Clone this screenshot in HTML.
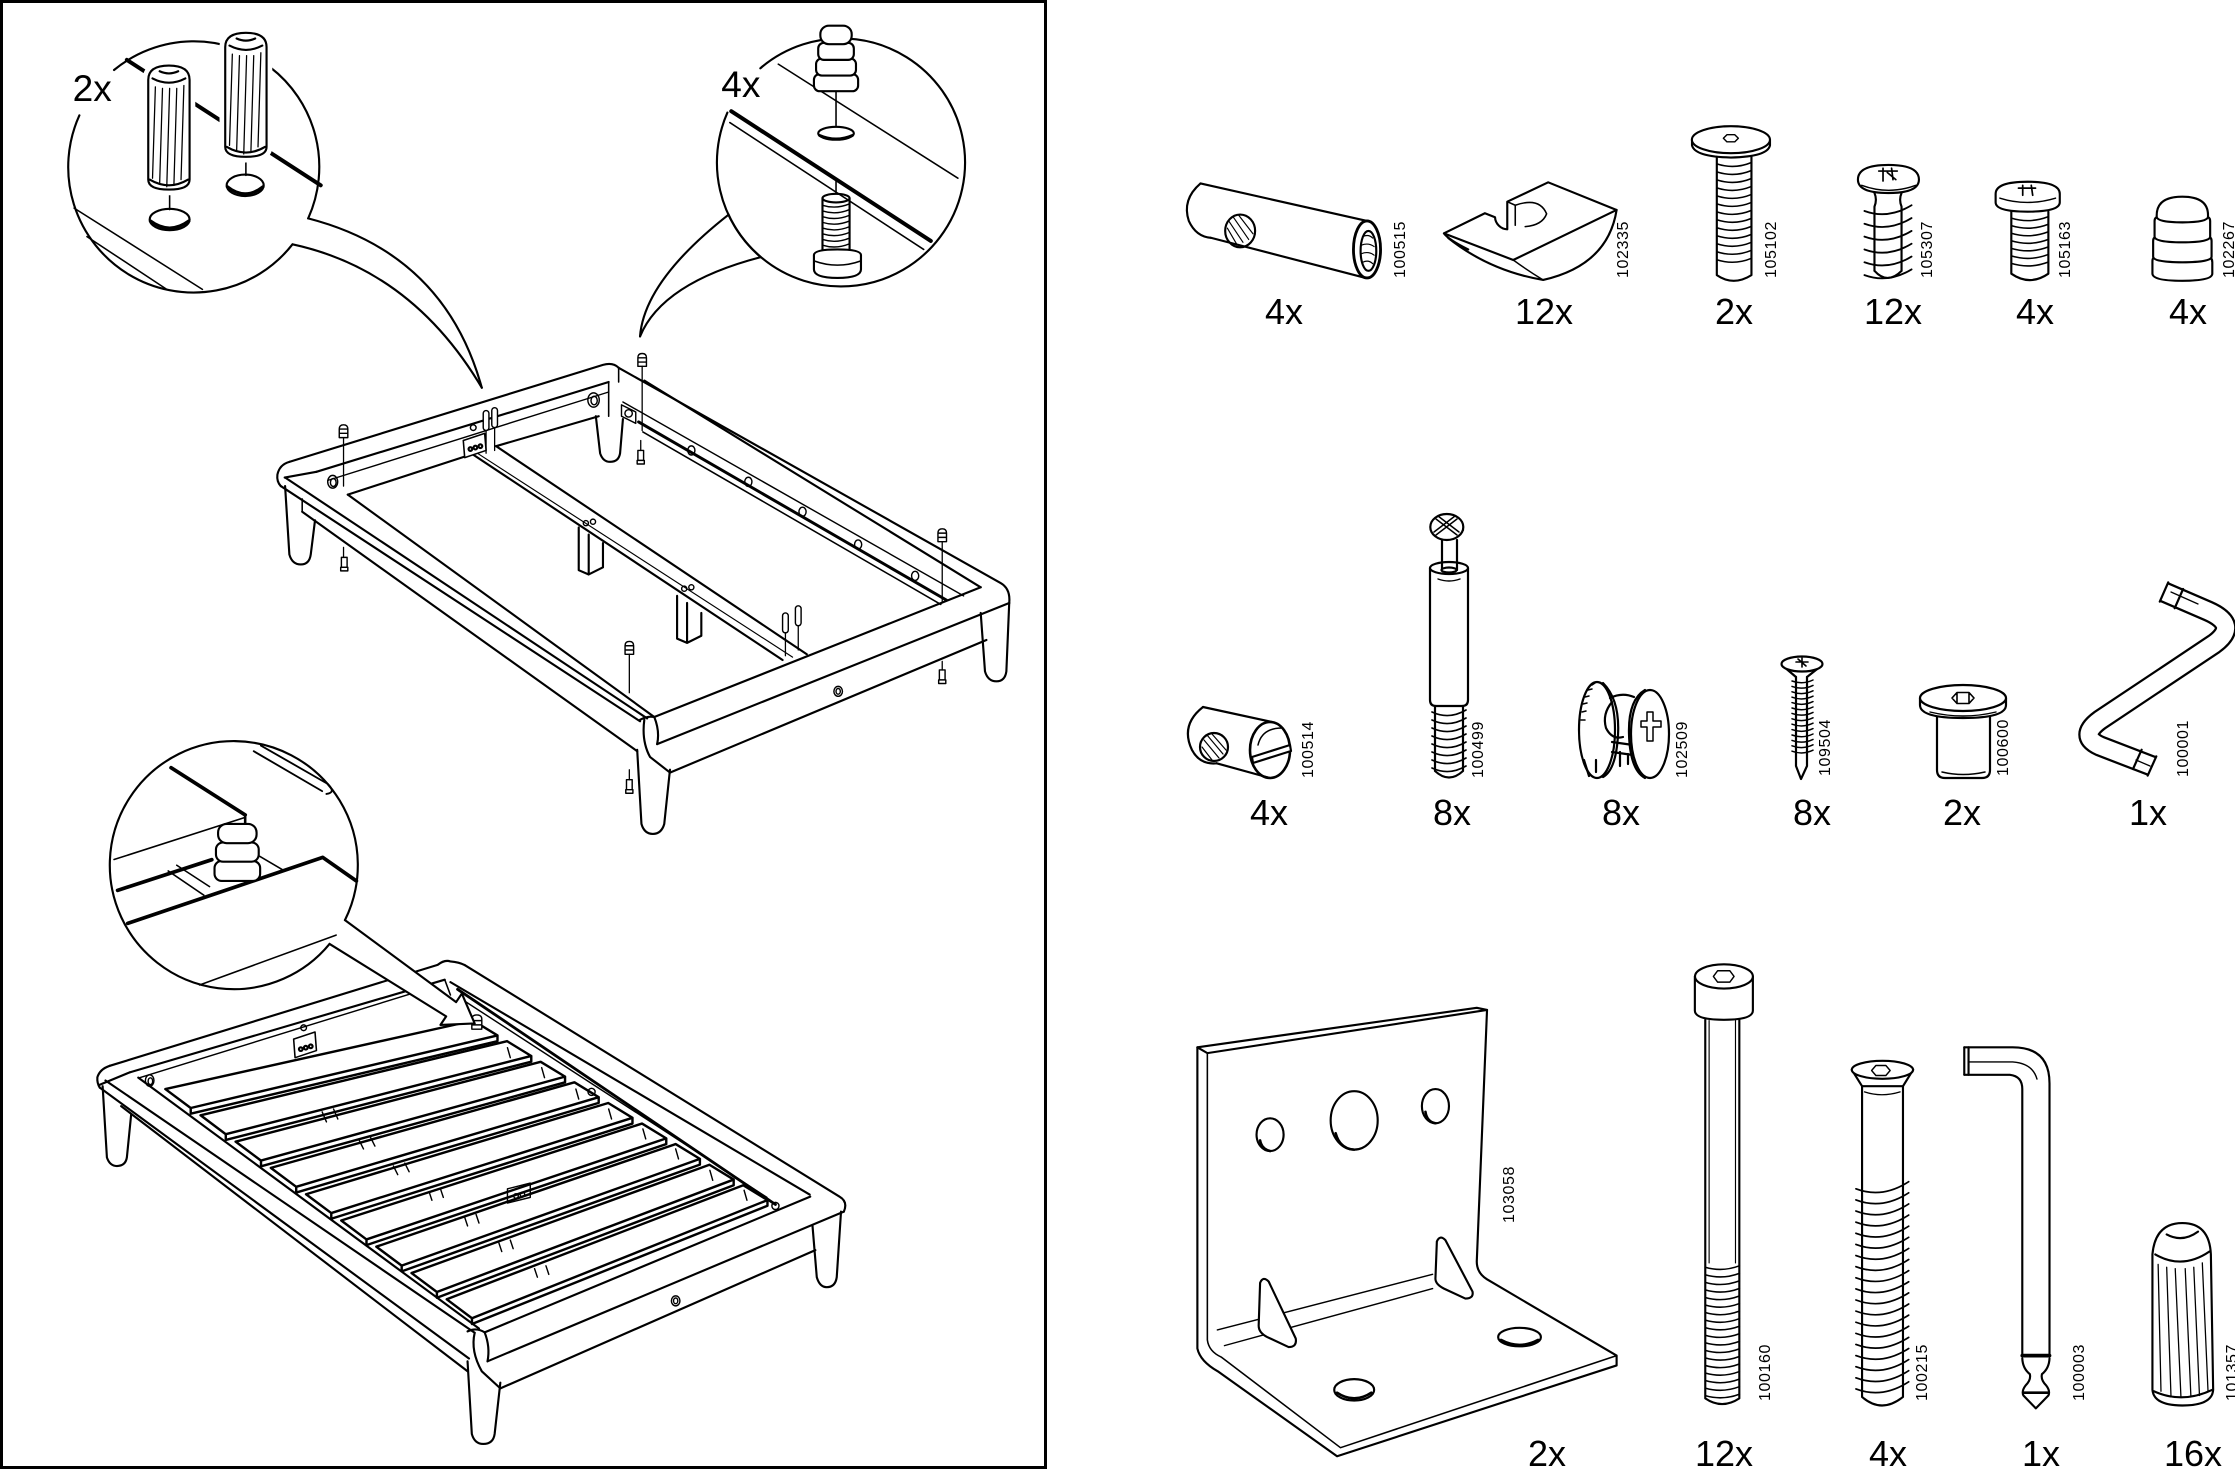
<!DOCTYPE html>
<html><head><meta charset="utf-8"><title>Bed assembly parts</title>
<style>
html,body{margin:0;padding:0;background:#fff;}
svg{display:block;}
text{font-family:"Liberation Sans",sans-serif;fill:#000;stroke:none;}
</style></head><body>
<svg width="2235" height="1470" viewBox="0 0 2235 1470" xmlns="http://www.w3.org/2000/svg">
<rect width="2235" height="1470" fill="#fff"/>
<rect x="1.5" y="1.5" width="1044" height="1466" fill="none" stroke="#000" stroke-width="3"/>

<g transform="scale(1.42545)" fill="none" stroke="#000" stroke-width="1.5" stroke-linecap="round" stroke-linejoin="round">

<!-- Callout 1 -->
<path d="M205.2,171.4 A88,88 0 0 1 55.7,80.9"/>
<path d="M80,49.1 A88,88 0 0 1 216.2,153.2"/>
<path d="M216.2,153.2 Q312,178 338,272"/>
<path d="M205.2,171.4 Q289,189.5 338,272"/>
<text x="51" y="71" font-size="26">2x</text>
<path d="M89,42 L225,130" stroke-width="2.8"/>
<path d="M52,146 L142,203 M61,166 L117,203" stroke-width="1.1"/>
<path d="M119,133 L119,147 M172.5,110 L172.5,123" stroke-width="1.1"/>
<ellipse cx="119" cy="154" rx="14" ry="7.5"/>
<path d="M105.5,155 Q119,165 132.5,155" stroke-width="2.2"/>
<ellipse cx="172" cy="130" rx="13" ry="7.5"/>
<path d="M159.5,131 Q172,141 184.5,131" stroke-width="2.2"/>
<g transform="translate(104,46)">
 <path d="M0,10 Q0,0 14.5,0 Q29,0 29,10 L29,80 Q29,87 14.5,87 Q0,87 0,80 Z" stroke="#fff" stroke-width="8" fill="#fff"/>
 <path d="M0,10 Q0,0 14.5,0 Q29,0 29,10 L29,80 Q29,87 14.5,87 Q0,87 0,80 Z" fill="#fff"/>
 <path d="M3,9 Q14.5,15 26,9 M8,4 Q14.5,7 21,4 M1,80 Q14.5,88 28,80"/>
 <path d="M5,15 L3,79 M10,16 L8,83 M15,16 L13,85 M20,16 L18,84 M25,14 L23,80" stroke-width="0.9"/>
</g>
<g transform="translate(158,23)">
 <path d="M0,10 Q0,0 14.5,0 Q29,0 29,10 L29,80 Q29,87 14.5,87 Q0,87 0,80 Z" stroke="#fff" stroke-width="8" fill="#fff"/>
 <path d="M0,10 Q0,0 14.5,0 Q29,0 29,10 L29,80 Q29,87 14.5,87 Q0,87 0,80 Z" fill="#fff"/>
 <path d="M3,9 Q14.5,15 26,9 M8,4 Q14.5,7 21,4 M1,80 Q14.5,88 28,80"/>
 <path d="M5,15 L3,79 M10,16 L8,83 M15,16 L13,85 M20,16 L18,84 M25,14 L23,80" stroke-width="0.9"/>
</g>

<!-- Callout 2 -->
<path d="M533.4,47.9 A87,87 0 1 1 511.1,150.6"/>
<path d="M533.7,180.4 A87,87 0 0 1 510.3,79"/>
<path d="M511.1,150.6 Q452,197 449,236"/>
<path d="M533.7,180.4 Q464.5,198.5 449,236"/>
<text x="506" y="68" font-size="26">4x</text>
<path d="M546,45 L672,125" stroke-width="1.1"/>
<path d="M513,78 L653,169" stroke-width="2.8"/>
<path d="M512,86 L648,175" stroke-width="1.1"/>
<rect x="571" y="52" width="31" height="12" rx="4" fill="#fff"/>
<rect x="572.5" y="41" width="28" height="12" rx="4" fill="#fff"/>
<rect x="574" y="30" width="25" height="12" rx="4" fill="#fff"/>
<rect x="575.5" y="18" width="22" height="13" rx="6" fill="#fff"/>
<path d="M586.5,64 L586.5,88 M586.5,126 L586.5,136" stroke-width="1.1"/>
<ellipse cx="586.5" cy="93.5" rx="12.5" ry="4.5"/>
<path d="M575,95 Q586.5,100 598,95" stroke-width="2"/>
<path d="M577,139 L577,176 M596,139 L596,176"/>
<ellipse cx="586.5" cy="139" rx="9.5" ry="3"/>
<path d="M577,144 q9.5,3 19,-1 m-19,5 q9.5,3 19,-1 m-19,5 q9.5,3 19,-1 m-19,5 q9.5,3 19,-1 m-19,5 q9.5,3 19,-1 m-19,5 q9.5,3 19,-1 m-19,5 q9.5,3 19,-1 m-19,5 q9.5,3 19,-1" stroke-width="1"/>
<path d="M571,179 L571,189 Q571,195 587.5,195 Q604,195 604,189 L604,179 Q604,175 587.5,175 Q571,175 571,179 Z" fill="#fff"/>
<path d="M571,183 Q587.5,189 604,183" stroke-width="1.1"/>

<!-- ===== Top bed frame ===== -->
<path d="M200,341 L203,389 Q205,396 211,396 Q217,396 218,389 L221,365"/>
<path d="M418,292 L421,318 Q423,324 428,324 Q434,324 435,318 L437,294"/>
<path d="M447,526 L450,578 Q452,585 458,585 Q464,585 466,578 L470,540"/>
<path d="M688,430 L691,471 Q693,478 699,478 Q705,478 706,471 L708,423"/>
<path d="M203,324 Q196,326 194.6,333 Q194,338 197,341"/>
<path d="M199.7,335 L222,331"/>
<path d="M203,324 L423,256 Q430,254 434,258"/>
<path d="M222,331 L427,268"/>
<path d="M230,337 L427,275" stroke-width="1"/>
<path d="M244,347 L327,320 M348,313 L420,292"/>
<path d="M427,268 L427,292 M434,258 L434,268" stroke-width="1.1"/>
<path d="M434,258 L702,409 Q709,413 708,423"/>
<path d="M452,267 L688,412"/>
<path d="M437,282 L676,418" stroke-width="1"/>
<path d="M448,296 L664,421" stroke-width="2.1"/>
<path d="M451,303 L660,424" stroke-width="1.1"/>
<path d="M459,503 L688,412"/>
<path d="M461,522 L708,423"/>
<path d="M470,542 L692,449"/>
<path d="M449,505 Q454,502 459,503 M452,505 Q450,520 456,531 L470,542 M459,503 Q463,513 461,522"/>
<path d="M197,341 L449,506"/>
<path d="M200,335 L454,504"/>
<path d="M244,347 L459,503"/>
<path d="M212,359 L447,527"/>
<path d="M212,350 L212,359" stroke-width="1.1"/>
<path d="M329,317 L549,463"/>
<path d="M335,318 L556,461" stroke-width="0.8"/>
<path d="M348,313 L566,459"/>
<path d="M325,309 L340,304 L341,316 L326,321 Z" fill="#fff" stroke-width="1.1"/>
<circle cx="330" cy="315" r="1.3"/><circle cx="333.5" cy="314" r="1.3"/><circle cx="337" cy="313" r="1.3"/>
<circle cx="332" cy="300" r="2" stroke-width="1"/>
<path d="M406,370 L406,400 L413,403 L413,375 M413,403 L423,398 L423,381"/>
<path d="M475,418 L475,448 L482,451 L482,423 M482,451 L492,446 L492,430"/>
<g stroke-width="1">
<circle cx="411" cy="367" r="1.8"/><circle cx="416" cy="366" r="1.8"/>
<circle cx="480" cy="413" r="1.8"/><circle cx="485" cy="412" r="1.8"/>
<ellipse cx="485" cy="316" rx="2.5" ry="3.2"/><ellipse cx="525" cy="338" rx="2.5" ry="3.2"/>
<ellipse cx="563" cy="359" rx="2.5" ry="3.2"/><ellipse cx="602" cy="382" rx="2.5" ry="3.2"/>
<ellipse cx="642" cy="404" rx="2.5" ry="3.2"/>
<ellipse cx="588" cy="485" rx="3" ry="3.5"/><ellipse cx="588" cy="485" rx="1.5" ry="2"/>
<ellipse cx="416.4" cy="280.6" rx="4" ry="5"/><ellipse cx="416.8" cy="281" rx="2.2" ry="3"/>
<ellipse cx="233.4" cy="338" rx="3.5" ry="4.5"/><ellipse cx="233.8" cy="338.5" rx="2" ry="2.8"/>
<path d="M436,284 L446,289 L446,297 L436,292 Z"/><circle cx="441" cy="290" r="2.6"/>
</g>
<g stroke-width="1" fill="#fff">
<path d="M238,307 L238,301 Q238,298 241,298 Q244,298 244,301 L244,307 Z M238,301 L244,301 M238,304 L244,304"/>
<path d="M447.5,257 L447.5,251 Q447.5,248 450.5,248 Q453.5,248 453.5,251 L453.5,257 Z M447.5,251 L453.5,251 M447.5,254 L453.5,254"/>
<path d="M658,380 L658,374 Q658,371 661,371 Q664,371 664,374 L664,380 Z M658,374 L664,374 M658,377 L664,377"/>
<path d="M438.5,459 L438.5,453 Q438.5,450 441.5,450 Q444.5,450 444.5,453 L444.5,459 Z M438.5,453 L444.5,453 M438.5,456 L444.5,456"/>
<rect x="239.5" y="391" width="4" height="7"/><rect x="239" y="398" width="5" height="2.5"/>
<rect x="447.5" y="316" width="4" height="7"/><rect x="447" y="323" width="5" height="2.5"/>
<rect x="659" y="470" width="4" height="7"/><rect x="658.5" y="477" width="5" height="2.5"/>
<rect x="439.5" y="547" width="4" height="7"/><rect x="439" y="554" width="5" height="2.5"/>
<rect x="339" y="288" width="4" height="14" rx="2"/><rect x="345" y="286" width="4" height="14" rx="2"/>
<rect x="549" y="430" width="4" height="14" rx="2"/><rect x="558" y="425" width="4" height="14" rx="2"/>
</g>
<path d="M241,307 L241,341 M241,384 L241,391 M450.5,257 L450.5,302 M449.5,309 L449.5,316 M661,380 L661,423 M661,464 L661,470 M441.5,459 L441.5,486 M441.5,540 L441.5,547 M341,302 L341,318 M347,300 L347,316 M551,444 L551,460 M560,439 L560,456" stroke-width="0.9"/>

<!-- ===== Bottom bed frame ===== -->
<path d="M72,762 L75,812 Q77,818 82,818 Q88,818 89,812 L92,782"/>
<path d="M328,955 L331,1006 Q333,1013 339,1013 Q346,1013 347,1006 L351,970"/>
<path d="M570,860 L573,896 Q575,903 580,903 Q586,903 587,896 L590,850"/>
<g fill="#fff" stroke-width="1.7">
<path d="M116,764 L332,716 L349,726.4 L349,730.4 L133.8,781.3 L133.8,777.3 Z M133.8,777.3 L349,726.4"/>
<path d="M140.7,782.4 L355.7,730.4 L372.7,740.8 L372.7,744.8 L158.4,799.7 L158.4,795.7 Z M158.4,795.7 L372.7,740.8"/>
<path d="M165.3,800.9 L379.3,744.9 L396.4,755.3 L396.4,759.3 L183.1,818.2 L183.1,814.2 Z M183.1,814.2 L396.4,755.3"/>
<path d="M190,819.3 L403,759.3 L420,769.7 L420,773.7 L207.8,836.6 L207.8,832.6 Z M207.8,832.6 L420,769.7"/>
<path d="M214.7,837.8 L426.7,773.8 L443.7,784.2 L443.7,788.2 L232.4,855 L232.4,851 Z M232.4,851 L443.7,784.2"/>
<path d="M239.4,856.2 L450.4,788.2 L467.4,798.6 L467.4,802.6 L257.1,873.5 L257.1,869.5 Z M257.1,869.5 L467.4,798.6"/>
<path d="M264,874.6 L474,802.6 L491,813 L491,817 L281.8,891.9 L281.8,887.9 Z M281.8,887.9 L491,813"/>
<path d="M288.7,893.1 L497.7,817.1 L514.7,827.5 L514.7,831.5 L306.5,910.4 L306.5,906.4 Z M306.5,906.4 L514.7,827.5"/>
<path d="M313.4,911.5 L521.4,831.5 L538.4,841.9 L538.4,845.9 L331.1,928.8 L331.1,924.8 Z M331.1,924.8 L538.4,841.9"/>
</g>
<g stroke-width="1">
<path d="M226,780 L229,787 M234,778 L237,785 M252,800 L255,806 M260,798 L263,804 M276,818 L279,824 M284,816 L287,822 M301,836 L303,842 M309,834 L311,840 M326,854 L328,860 M334,852 L336,858 M350,872 L352,878 M358,870 L360,876 M375,890 L377,896 M383,888 L385,894"/>
<path d="M356,735 L358,742 M380,749 L382,756 M404,764 L406,771 M427,778 L429,785 M451,792 L453,799 M474,806 L476,813 M498,821 L500,828 M522,835 L524,842"/>
</g>
<path d="M77,747.7 Q70,750 68.3,755.8 Q68,760 70,763"/>
<path d="M70,761 L91,752.3"/>
<path d="M77,747.7 L307,676.9 Q312,673 316,674.5 Q322,675 326,677"/>
<path d="M91,752.3 L312,687.3"/>
<path d="M98,756 L305,692" stroke-width="1"/>
<path d="M312,687.3 L316,698 M305,692 L308,705" stroke-width="1.1"/>
<path d="M326,677 L589,839.5 Q595,843 592,850"/>
<path d="M316,689 L568,838"/>
<path d="M321,694 L544,845" stroke-width="2"/>
<path d="M324,701 L538,840" stroke-width="1"/>
<path d="M340,934.7 L568.4,839.5"/>
<path d="M342,955 L592,850"/>
<path d="M351,974 L572,877"/>
<path d="M328,934 Q334,931 340,934.7 M333,935 Q330,948 338,962 L351,974 M340,934.7 Q344,945 342,955"/>
<path d="M70,763 L329,953"/>
<path d="M74,758 L333,935"/>
<path d="M97,756 L336,932"/>
<path d="M85,776 L328,962"/>
<path d="M206,729 L221,724 L222,737 L207,742 Z" fill="#fff" stroke-width="1.1"/>
<circle cx="211" cy="736" r="1.3"/><circle cx="214.5" cy="735" r="1.3"/><circle cx="218" cy="734" r="1.3"/>
<g stroke-width="1">
<circle cx="213" cy="721" r="2"/>
<ellipse cx="105" cy="758" rx="3" ry="4"/><ellipse cx="105.5" cy="758.5" rx="1.6" ry="2.4"/>
<circle cx="415" cy="766" r="2.5"/><circle cx="544" cy="846" r="2.5"/>
<ellipse cx="474" cy="912.6" rx="3" ry="3.5"/><ellipse cx="474" cy="912.6" rx="1.5" ry="2"/>
<circle cx="362" cy="839" r="1.6"/><circle cx="366.5" cy="838" r="1.6"/>
<path d="M356,844 L356,834 L372,830 L372,840 Z"/>
</g>
<path d="M331,722 L331,715 Q331,712 334.5,712 Q338,712 338,715 L338,722 Z M331,716 L338,716 M331,719 L338,719" fill="#fff" stroke-width="1"/>

<!-- Callout 3 -->
<path d="M231.2,662.2 A87,87 0 1 1 242,645.5"/>
<path d="M242,645.5 L320,703 L324,697 L333,718 L309,719 L313,713 L231.2,662.2" fill="#fff"/>
<path d="M120,538.6 L172,571.7" stroke-width="2.6"/>
<path d="M172,571.7 L172,578" stroke-width="1.8"/>
<path d="M80,603 L172,573.4" stroke-width="1.1"/>
<path d="M82.5,624.6 L148.6,603.1" stroke-width="2.6"/>
<path d="M118,611 L143,628 M124,607 L147,622" stroke-width="1.1"/>
<path d="M89.6,647.8 L226.4,601.5 L250,618" stroke-width="2.6"/>
<path d="M140,691 L235.8,656" stroke-width="1.1"/>
<path d="M181,600 L198,610" stroke-width="1.1"/>
<path d="M178,527 L226,555 M183,523 L230,550 Q236,556 229,557" stroke-width="1.3"/>
<rect x="150.5" y="604" width="32" height="14" rx="5" fill="#fff"/>
<rect x="151.5" y="591" width="30" height="13.5" rx="5" fill="#fff"/>
<rect x="153" y="578" width="27" height="13.5" rx="6" fill="#fff"/>

<!-- ===== ROW 1 parts ===== -->
<path d="M842.2,128.7 L959,155"/>
<path d="M849.4,166.8 L958,195"/>
<path d="M842.2,128.7 Q829,140 834,155 Q839,166 849.4,166.8"/>
<ellipse cx="959" cy="175" rx="9.5" ry="20" stroke-width="2"/>
<ellipse cx="960" cy="176" rx="5.5" ry="14"/>
<path d="M956,166 Q960,164 963,167 M955,172 Q960,170 964,173 M955,178 Q960,176 964,179 M956,184 Q960,182 963,185" stroke-width="0.8"/>
<ellipse cx="870" cy="162" rx="10.5" ry="11.5"/>
<path d="M862,155 L872,170 M865,152 L876,168 M869,151 L879,164 M861,160 L868,172" stroke-width="0.8"/>
<path d="M1013,163.7 L1041.7,149.6 L1048.8,152.4 A9,9 0 0 0 1057.4,160.9 L1057.4,141.5 L1086.1,127.9 L1134.1,147.3 L1061.6,182.4 Z" fill="#fff"/>
<path d="M1013,163.7 Q1016,168 1030,175 M1134.1,147.3 Q1128,186 1082.6,196.4 Q1045,190 1016,167"/>
<path d="M1061.6,182.4 Q1072,190 1082.6,196.4" stroke-width="1"/>
<path d="M1057.4,141.5 L1063,144 L1063,158 M1063,144 Q1080,138 1085,150 Q1082,158 1070,159" stroke-width="1.1"/>
<path d="M1187,98 L1187,102 Q1189,110 1214.3,110.5 Q1240,110 1241.7,102 L1241.7,98"/>
<ellipse cx="1214.3" cy="98" rx="27.4" ry="9.5" fill="#fff"/>
<path d="M1209,97 L1211.5,94.5 L1217,94.5 L1219.5,97 L1217,99.5 L1211.5,99.5 Z" stroke-width="1"/>
<path d="M1204.4,110 L1204.4,193 Q1216,201 1228.7,193 L1228.7,110"/>
<path d="M1204.4,115 q12.2,4 24.3,-1 m-24.3,6.6 q12.2,4 24.3,-1 m-24.3,6.6 q12.2,4 24.3,-1 m-24.3,6.6 q12.2,4 24.3,-1 m-24.3,6.6 q12.2,4 24.3,-1 m-24.3,6.6 q12.2,4 24.3,-1 m-24.3,6.6 q12.2,4 24.3,-1 m-24.3,6.6 q12.2,4 24.3,-1 m-24.3,6.6 q12.2,4 24.3,-1 m-24.3,6.6 q12.2,4 24.3,-1 m-24.3,6.6 q12.2,4 24.3,-1 m-24.3,6.6 q12.2,4 24.3,-1 m-24.3,6.6 q12.2,4 24.3,-1" stroke-width="1.1"/>
<path d="M1303.4,126 Q1303.4,115.7 1324.8,115.7 Q1346.2,115.7 1346.2,126 Q1346.2,135.4 1324.8,135.4 Q1303.4,135.4 1303.4,126 Z"/>
<path d="M1306,130 Q1325,137 1344,130" stroke-width="1"/>
<path d="M1318,120 L1331,120 M1321,118 L1321,127 M1327,118 L1328,126 M1324,121 L1330,126" stroke-width="1.2"/>
<path d="M1315,135.4 Q1317,140 1315,145 L1315,190 M1334,135.4 Q1332,140 1334,145 L1334,190"/>
<path d="M1308,148 q16.5,6 33,-4 m-33,13 q16.5,6 33,-4 m-33,13 q16.5,6 33,-4 m-33,13 q16.5,6 33,-4 m-33,13 q16.5,6 33,-4 m-33,13 q16.5,6 33,-4" stroke-width="1.3"/>
<path d="M1315,190 Q1324,200 1334,190"/>
<path d="M1400,136 Q1400,127.5 1422.4,127.5 Q1445,127.5 1445,136 L1445,142 Q1445,148.5 1422.4,148.5 Q1400,148.5 1400,142 Z" fill="#fff"/>
<path d="M1403,139 Q1422,145 1442,139" stroke-width="1"/>
<path d="M1416,132 L1428,132 M1419,130 L1419,137 M1425,130 L1426,137" stroke-width="1.2"/>
<path d="M1411,148.5 L1411,192 Q1424,201 1437,192 L1437,148.5"/>
<path d="M1411,153 q13,4 26,-1 m-26,6.3 q13,4 26,-1 m-26,6.3 q13,4 26,-1 m-26,6.3 q13,4 26,-1 m-26,6.3 q13,4 26,-1 m-26,6.3 q13,4 26,-1 m-26,6.3 q13,4 26,-1" stroke-width="1.1"/>
<path d="M1510,183 Q1510,180 1514,180 L1548,180 Q1552,180 1552,184 L1552,192 Q1552,197 1531,197 Q1510,197 1510,192 Z" fill="#fff"/>
<path d="M1510.5,169 Q1510.5,166 1514,166 L1548,166 Q1551.5,166 1551.5,169 L1551.5,180 Q1551.5,184 1531,184 Q1510.5,184 1510.5,180 Z" fill="#fff"/>
<path d="M1511.5,155 Q1511.5,152 1515,152 L1547,152 Q1550.5,152 1550.5,155 L1550.5,166 Q1550.5,170 1531,170 Q1511.5,170 1511.5,166 Z" fill="#fff"/>
<path d="M1513,151 Q1513,138 1531,138 Q1549,138 1549,151 L1549,152 Q1549,156 1531,156 Q1513,156 1513,152 Z" fill="#fff"/>

<!-- ===== ROW 3 parts ===== -->
<path d="M840,734.7 L1036,707 L1043.2,708.5 L847,738.8 Z" fill="#fff"/>
<path d="M840,734.7 L840,946 Q842,955 854.3,962 L938,1021.6 L1134.1,957.9 L1134.1,951 L1043.2,897.5 Q1036,893 1036,885 L1043.2,708.5"/>
<path d="M847,738.8 L847,940 Q848,948 856.7,952 L940.4,1015.6 L1134.1,951" stroke-width="1.1"/>
<path d="M854,933 L1005,894 M859,944 L1005,904" stroke-width="1"/>
<ellipse cx="891" cy="796" rx="9.5" ry="11.5"/>
<path d="M884,800 Q885,806 891,807.5" stroke-width="1.8"/>
<ellipse cx="950" cy="786" rx="16.5" ry="20.5"/>
<path d="M937,795 Q940,806 950,806.5" stroke-width="1.8"/>
<ellipse cx="1007" cy="776" rx="9.5" ry="12"/>
<path d="M1000,780 Q1001,787 1007,788" stroke-width="1.8"/>
<ellipse cx="1066" cy="938" rx="15" ry="6.5"/>
<path d="M1053,940 Q1066,947 1079,940" stroke-width="1.8"/>
<ellipse cx="950" cy="975" rx="14" ry="7.5"/>
<path d="M938,977 Q950,985 962,977" stroke-width="1.8"/>
<path d="M884,900 Q886,895 890,899 L909,939 Q910,945 904,945 L889,938 Q883,935 883,930 Z" fill="#fff"/>
<path d="M1008,871 Q1010,866 1014,870 L1033,906 Q1034,911 1028,911 L1013,904 Q1007,901 1007,897 Z" fill="#fff"/>
<path d="M1189,685 L1189,709 Q1189,715.4 1209.4,715.4 Q1229.7,715.4 1229.7,709 L1229.7,685"/>
<ellipse cx="1209.4" cy="685" rx="20.3" ry="8.5" fill="#fff"/>
<path d="M1202,685 L1205,681 L1213.5,681 L1216.5,685 L1213.5,689 L1205,689 Z" stroke-width="1"/>
<path d="M1196.3,715.4 L1196.3,981 Q1208,989 1220.2,981 L1220.2,715.4"/>
<path d="M1199,716 L1199,886 M1217.5,716 L1217.5,886" stroke-width="0.8"/>
<path d="M1196.3,889 q12,3.5 23.9,-1 m-23.9,6.3 q12,3.5 23.9,-1 m-23.9,6.3 q12,3.5 23.9,-1 m-23.9,6.3 q12,3.5 23.9,-1 m-23.9,6.3 q12,3.5 23.9,-1 m-23.9,6.3 q12,3.5 23.9,-1 m-23.9,6.3 q12,3.5 23.9,-1 m-23.9,6.3 q12,3.5 23.9,-1 m-23.9,6.3 q12,3.5 23.9,-1 m-23.9,6.3 q12,3.5 23.9,-1 m-23.9,6.3 q12,3.5 23.9,-1 m-23.9,6.3 q12,3.5 23.9,-1 m-23.9,6.3 q12,3.5 23.9,-1 m-23.9,6.3 q12,3.5 23.9,-1 m-23.9,6.3 q12,3.5 23.9,-1 m-23.9,6.3 q12,3.5 23.9,-1 m-23.9,6.3 q12,3.5 23.9,-1 m-23.9,6.3 q12,3.5 23.9,-1" stroke-width="1.1"/>
<path d="M1299.1,750.5 L1306.3,762 L1335,762 L1342.1,750.5"/>
<ellipse cx="1320.6" cy="750.5" rx="21.5" ry="6.3" fill="#fff"/>
<path d="M1313,751 L1316,747.5 L1323,747.5 L1326,751 L1323,754.5 L1316,754.5 Z" stroke-width="1"/>
<path d="M1306.3,762 L1306.3,980 Q1320,992 1335,980 L1335,762"/>
<path d="M1308,766 Q1320,770 1333,766" stroke-width="0.9"/>
<path d="M1302,834 q18.5,7 37,-5 m-37,12.8 q18.5,7 37,-5 m-37,12.8 q18.5,7 37,-5 m-37,12.8 q18.5,7 37,-5 m-37,12.8 q18.5,7 37,-5 m-37,12.8 q18.5,7 37,-5 m-37,12.8 q18.5,7 37,-5 m-37,12.8 q18.5,7 37,-5 m-37,12.8 q18.5,7 37,-5 m-37,12.8 q18.5,7 37,-5 m-37,12.8 q18.5,7 37,-5 m-37,12.8 q18.5,7 37,-5 m-37,12.8 q18.5,7 37,-5 m-37,12.8 q18.5,7 37,-5 m-37,12.8 q18.5,7 37,-5 m-37,12.8 q18.5,7 37,-5 m-37,12.8 q18.5,7 37,-5 m-37,12.8 q18.5,7 37,-5 m-37,12.8 q18.5,7 37,-5" stroke-width="1.2"/>
<path d="M1378,734.7 L1412,734.7 Q1437.8,734.7 1437.8,760 L1437.8,951"/>
<path d="M1381,745 L1412,745 Q1426,746 1429,757" stroke-width="1"/>
<path d="M1378,754 L1410,754 Q1418.7,755 1418.7,764 L1418.7,951"/>
<path d="M1378,734.7 L1378,754 M1381,734.7 L1381,754"/>
<path d="M1418.7,951 L1437.8,951" stroke-width="2.6"/>
<path d="M1418.7,953 Q1419,960 1424,964 Q1425,968 1421,972 Q1418,976 1419.5,979 L1428.2,988 L1437,979 Q1438.5,976 1435.5,972 Q1431.5,968 1432.5,964 Q1437.5,960 1437.8,953"/>
<path d="M1419.5,977 L1437,977" stroke-width="1.8"/>
<path d="M1510,880 Q1512,858 1531,858 Q1550,858 1551,880 L1552.6,975 Q1552,986 1531,986 Q1511,986 1510,975 Z" fill="#fff"/>
<path d="M1512,880 Q1531,891 1550,878 M1520,866 Q1531,872 1542,864 M1511,976 Q1531,985 1552,975"/>
<path d="M1514,887 L1516,976 M1520,889 L1523,979 M1526,890 L1530,980 M1533,890 L1537,980 M1539,889 L1543,979 M1545,886 L1549,976" stroke-width="0.9"/>
</g>

<!-- ===== ROW 2 parts (original coords) ===== -->
<g fill="none" stroke="#000" stroke-width="2.2" stroke-linecap="round" stroke-linejoin="round">
<path d="M1203,707 L1272,722"/>
<path d="M1216.7,763.3 L1270,778"/>
<path d="M1203,707 Q1180,725 1192,750 Q1200,765 1216.7,763.3"/>
<ellipse cx="1270" cy="750" rx="20" ry="28" stroke-width="2.6"/>
<path d="M1252,757 L1290,745 L1291,751 L1253,763 Z" fill="#fff"/>
<path d="M1258,745 Q1262,728 1282,728" stroke-width="1.5"/>
<ellipse cx="1214" cy="747" rx="14" ry="14"/>
<path d="M1204,740 L1219,758 M1207,735 L1223,754 M1212,734 L1226,750 M1202,747 L1212,760" stroke-width="1.2"/>
<path d="M1430,568 L1430,700 Q1430,706 1436,706 L1462,706 Q1468,706 1468,700 L1468,568" fill="#fff"/>
<ellipse cx="1449" cy="568" rx="19" ry="6" fill="#fff"/>
<path d="M1438,579 Q1449,583 1460,579" stroke-width="1.4"/>
<path d="M1442,540 L1442,570 M1457,540 L1457,570" />
<ellipse cx="1449" cy="570" rx="7.5" ry="2.5" fill="#fff"/>
<path d="M1431,530 Q1447,547 1463,530" fill="#fff"/>
<ellipse cx="1446.8" cy="527" rx="16.5" ry="13" fill="#fff"/>
<path d="M1436,519 L1457,535 M1438,516 L1459,532 M1457,519 L1436,535 M1455,516 L1434,532" stroke-width="1.5"/>
<path d="M1435,706 L1435,771 Q1449,784 1463,771 L1463,706"/>
<path d="M1432,712 q17,8 34,-2 m-34,10 q17,8 34,-2 m-34,10 q17,8 34,-2 m-34,10 q17,8 34,-2 m-34,10 q17,8 34,-2 m-34,10 q17,8 34,-2 m-34,10 q17,8 34,-2 m-34,10 q17,8 34,-2" stroke-width="1.7"/>
<ellipse cx="1597" cy="730" rx="18" ry="48" fill="#fff"/>
<path d="M1603,683 Q1620,700 1618,735 Q1616,770 1603,777"/>
<path d="M1582,712 l4,-1 M1583,704 l4,-1 M1585,697 l4,-1 M1588,690 l4,-1 M1592,685 l3,-2 M1581,720 l4,0" stroke-width="1.5"/>
<path d="M1610,698 Q1622,692 1634,697 M1612,742 L1640,746 M1612,752 L1640,756 M1620,752 L1620,766 M1628,754 L1628,764" />
<path d="M1612,702 Q1602,714 1606,728 Q1612,740 1623,737"/>
<path d="M1584,760 L1589,776 M1596,760 L1596,772"/>
<path d="M1645,690 Q1628,700 1629,734 Q1630,770 1645,778"/>
<ellipse cx="1650" cy="734" rx="19" ry="44" fill="#fff"/>
<path d="M1647,712 l6,0 l0,9 l8,0 l0,6 l-8,0 l0,14 l-6,0 l0,-14 l-6,0 l0,-6 l6,0 Z" stroke-width="1.5"/>
<path d="M1783,666 L1796,677 M1821,666 L1807,677"/>
<ellipse cx="1802" cy="664" rx="20.5" ry="7.5" fill="#fff"/>
<path d="M1796,662 L1808,662 M1802,658 L1802,667 M1798,659 L1806,666" stroke-width="1.6"/>
<path d="M1796,677 L1796,766 L1801,779 L1807,766 L1807,677"/>
<path d="M1792,681 q10.5,4 21,-1 m-21,6.4 q10.5,4 21,-1 m-21,6.4 q10.5,4 21,-1 m-21,6.4 q10.5,4 21,-1 m-21,6.4 q10.5,4 21,-1 m-21,6.4 q10.5,4 21,-1 m-21,6.4 q10.5,4 21,-1 m-21,6.4 q10.5,4 21,-1 m-21,6.4 q10.5,4 21,-1 m-21,6.4 q10.5,4 21,-1 m-21,6.4 q10.5,4 21,-1 m-21,6.4 q10.5,4 21,-1 m-21,6.4 q10.5,4 21,-1 m-21,6.4 q10.5,4 21,-1" stroke-width="1.5"/>
<path d="M1937,716 L1937,770 Q1937,778 1945,778 L1982,778 Q1990,778 1990,770 L1990,716"/>
<path d="M1942,772 Q1963,777 1985,772" stroke-width="1.5"/>
<path d="M1920,698 L1920,705 Q1920,718 1963,718 Q2006,718 2006,705 L2006,698" fill="#fff"/>
<ellipse cx="1963" cy="698" rx="43" ry="13" fill="#fff"/>
<path d="M1930,712 Q1963,720 1996,712" stroke-width="1.4"/>
<path d="M1952,698 L1957,692.5 L1969,692.5 L1974,698 L1969,703.5 L1957,703.5 Z M1957,692.5 L1957,703.5 M1969,692.5 L1969,703.5" stroke-width="1.6"/>
<path d="M2164,592 L2208,611 Q2240,625 2214,644 L2100,720 Q2078,736 2100,746 L2152,766" stroke-width="21.5" stroke-linecap="butt"/>
<path d="M2164,592 L2208,611 Q2240,625 2214,644 L2100,720 Q2078,736 2100,746 L2152,766" stroke="#fff" stroke-width="17" stroke-linecap="butt"/>
<path d="M2159.8,601.6 L2168.2,582.4 M2174.7,608.2 L2183.1,589 M2147.7,775.6 L2156.3,756.4 M2133,769 L2141.6,749.8" stroke-width="2.2"/>
<path d="M2171,592 L2198,604 M2136,760 L2150,766" stroke-width="1.3"/>
</g>

<!-- ===== TEXT: quantities ===== -->
<g font-size="36" text-anchor="middle">
<text x="1284" y="324">4x</text>
<text x="1544" y="324">12x</text>
<text x="1734" y="324">2x</text>
<text x="1893" y="324">12x</text>
<text x="2035" y="324">4x</text>
<text x="2188" y="324">4x</text>
<text x="1269" y="825">4x</text>
<text x="1452" y="825">8x</text>
<text x="1621" y="825">8x</text>
<text x="1812" y="825">8x</text>
<text x="1962" y="825">2x</text>
<text x="2148" y="825">1x</text>
<text x="1547" y="1466">2x</text>
<text x="1724" y="1466">12x</text>
<text x="1888" y="1466">4x</text>
<text x="2041" y="1466">1x</text>
<text x="2193" y="1466">16x</text>
</g>
<!-- ===== TEXT: part numbers (vertical) ===== -->
<g font-size="16" letter-spacing="0.6">
<text transform="translate(1405,278) rotate(-90)">100515</text>
<text transform="translate(1628,278) rotate(-90)">102335</text>
<text transform="translate(1776,278) rotate(-90)">105102</text>
<text transform="translate(1932,278) rotate(-90)">105307</text>
<text transform="translate(2070,278) rotate(-90)">105163</text>
<text transform="translate(2234,278) rotate(-90)">102267</text>
<text transform="translate(1313,778) rotate(-90)">100514</text>
<text transform="translate(1483,778) rotate(-90)">100499</text>
<text transform="translate(1687,778) rotate(-90)">102509</text>
<text transform="translate(1830,776) rotate(-90)">109504</text>
<text transform="translate(2008,776) rotate(-90)">100600</text>
<text transform="translate(2188,777) rotate(-90)">100001</text>
<text transform="translate(1514,1223) rotate(-90)">103058</text>
<text transform="translate(1770,1401) rotate(-90)">100160</text>
<text transform="translate(1927,1401) rotate(-90)">100215</text>
<text transform="translate(2084,1401) rotate(-90)">100003</text>
<text transform="translate(2237,1401) rotate(-90)">101357</text>
</g>
</svg>
</body></html>
